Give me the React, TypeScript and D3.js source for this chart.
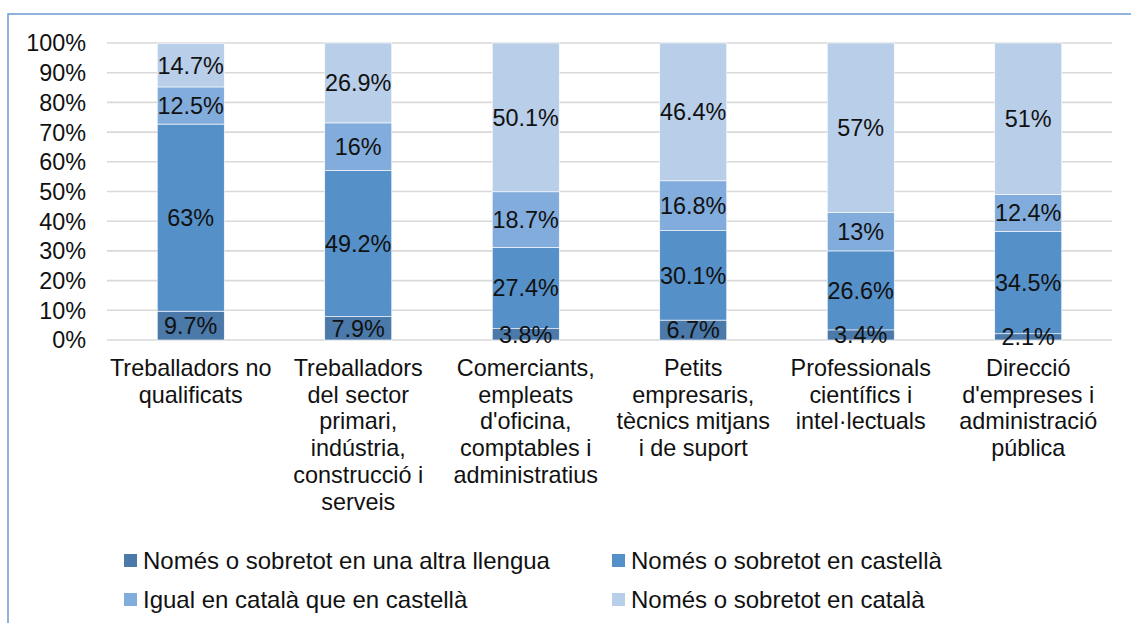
import React from "react";
import * as d3 from "d3";

const categories = [
  "Treballadors no\nqualificats",
  "Treballadors\ndel sector\nprimari,\nindústria,\nconstrucció i\nserveis",
  "Comerciants,\nempleats\nd'oficina,\ncomptables i\nadministratius",
  "Petits\nempresaris,\ntècnics mitjans\ni de suport",
  "Professionals\ncientífics i\nintel·lectuals",
  "Direcció\nd'empreses i\nadministració\npública",
];

const seriesNames = [
  "Només o sobretot en una altra llengua",
  "Només o sobretot en castellà",
  "Igual en català que en castellà",
  "Només o sobretot en català",
];

const altraLlengua = [9.7, 7.9, 3.8, 6.7, 3.4, 2.1];
const castella = [63, 49.2, 27.4, 30.1, 26.6, 34.5];
const igual = [12.5, 16, 18.7, 16.8, 13, 12.4];
const catala = [14.7, 26.9, 50.1, 46.4, 57, 51];

const yTicks = [0, 10, 20, 30, 40, 50, 60, 70, 80, 90, 100];

const colors = ["#4a79aa", "#5590c8", "#81acdc", "#b9cee9"];

const W = 1131;
const H = 623;
const FONT = "'Liberation Sans', Arial, sans-serif";
const FS = 23.4;
const LFS = 24;

export default function App() {
  const seriesData = [altraLlengua, castella, igual, catala];
  const rows = categories.map((c, i) => {
    const r: any = { cat: c };
    seriesNames.forEach((s, k) => (r[s] = seriesData[k][i]));
    return r;
  });
  const stacked = d3.stack<any>().keys(seriesNames)(rows);

  const x = d3.scaleBand<string>().domain(categories).range([107, 1112]).paddingInner(0.6).paddingOuter(0.3);
  const y = d3.scaleLinear().domain([0, 100]).range([340, 43]);

  const legendPos = [
    { x: 124, y: 560 },
    { x: 612, y: 560 },
    { x: 124, y: 599 },
    { x: 612, y: 599 },
  ];

  return (
    <svg
      width={W}
      height={H}
      style={{ position: "absolute", left: 0, top: 0, background: "#fff" }}
      fontFamily={FONT}
    >
      <rect x={0} y={0} width={W} height={H} fill="#fff" />
      <rect x={8} y={14} width={W + 10} height={H + 10} fill="none" stroke="#6a9bd2" strokeWidth={1.5} />
      {yTicks.map((t) => (
        <g key={t}>
          <line x1={107} x2={1112} y1={y(t)} y2={y(t)} stroke="#d9d9d9" strokeWidth={1.6} />
          <text x={86} y={y(t)} dy="0.36em" textAnchor="end" fontSize={FS} fill="#111">
            {t}%
          </text>
        </g>
      ))}
      {stacked.map((layer, k) => (
        <g key={layer.key}>
          {layer.map((d, i) => (
            <rect
              key={i}
              x={x(categories[i])}
              y={y(d[1])}
              width={x.bandwidth()}
              height={y(d[0]) - y(d[1])}
              fill={colors[k]}
              stroke="#fff"
              strokeWidth={0.6}
            />
          ))}
        </g>
      ))}
      {stacked.map((layer, k) => (
        <g key={"l" + layer.key}>
          {layer.map((d, i) => (
            <text
              key={i}
              x={(x(categories[i]) as number) + x.bandwidth() / 2}
              y={(y(d[0]) + y(d[1])) / 2}
              dy="0.36em"
              textAnchor="middle"
              fontSize={FS}
              fill="#111"
            >
              {seriesData[k][i]}%
            </text>
          ))}
        </g>
      ))}
      {categories.map((c, i) => (
        <text
          key={c}
          x={(x(c) as number) + x.bandwidth() / 2}
          y={376}
          textAnchor="middle"
          fontSize={FS}
          fill="#111"
        >
          {c.split("\n").map((line, j) => (
            <tspan key={j} x={(x(c) as number) + x.bandwidth() / 2} y={376 + j * 26.7}>
              {line}
            </tspan>
          ))}
        </text>
      ))}
      {seriesNames.map((s, k) => (
        <g key={s}>
          <rect x={legendPos[k].x} y={legendPos[k].y - 6} width={13} height={13} fill={colors[k]} />
          <text x={legendPos[k].x + 19} y={legendPos[k].y} dy="0.36em" fontSize={LFS} fill="#111">
            {s}
          </text>
        </g>
      ))}
    </svg>
  );
}
